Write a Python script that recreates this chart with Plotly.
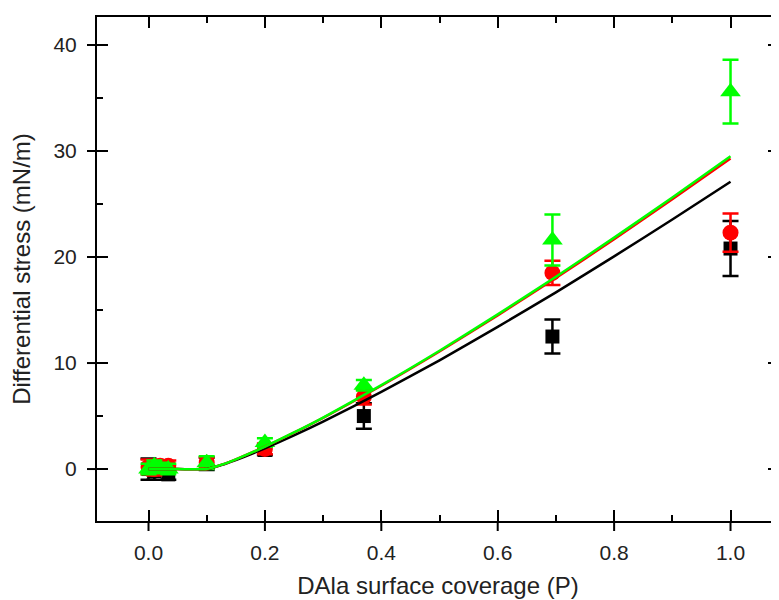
import plotly.graph_objects as go

# ---- data ----
coverage_pts = [0.0, 0.01, 0.02, 0.034, 0.1, 0.2, 0.37, 0.694, 1.0]

black_y = [0.0, -0.2, 0.1, -0.5, 0.5, 1.8, 5.0, 12.5, 20.8]
black_err = [1.0, 0.8, 0.6, 0.5, 0.6, 0.5, 1.2, 1.6, 2.6]

red_y = [0.2, 0.0, 0.3, 0.3, 0.6, 1.9, 6.8, 18.5, 22.3]
red_err = [0.7, 0.6, 0.5, 0.5, 0.5, 0.5, 0.7, 1.15, 1.8]

green_y = [0.0, 0.3, 0.1, 0.0, 0.6, 2.5, 7.9, 21.6, 35.6]
green_err = [0.5, 0.5, 0.5, 0.5, 0.6, 0.4, 0.5, 2.4, 3.0]

# fitted curves
fit_x = [0.0, 0.05, 0.1, 0.125, 0.15, 0.2, 0.25, 0.3, 0.4, 0.5, 0.6, 0.7, 0.8, 0.9, 1.0]
fit_black = [0.0, 0.0, 0.0, 0.37, 0.85, 1.95, 3.17, 4.47, 7.27, 10.26, 13.41, 16.67, 20.06, 23.54, 27.1]
fit_red = [0.0, 0.0, 0.0, 0.40, 0.92, 2.11, 3.43, 4.83, 7.86, 11.09, 14.50, 18.02, 21.68, 25.45, 29.3]
fit_green = [0.0, 0.0, 0.0, 0.40, 0.92, 2.12, 3.45, 4.86, 7.91, 11.16, 14.59, 18.14, 21.83, 25.61, 29.5]

x_ticks = [0.0, 0.2, 0.4, 0.6, 0.8, 1.0]
y_ticks = [0, 10, 20, 30, 40]

x_title = "DAla surface coverage (P)"
y_title = "Differential stress (mN/m)"

BLACK = "#000000"
RED = "#ff0000"
GREEN = "#00ff00"
TXT = "#222222"
FONT = "Liberation Sans, Arial, sans-serif"

fig = go.Figure()


def add_points(y, err, color, symbol, size):
    fig.add_trace(go.Scatter(
        x=coverage_pts, y=y, mode="markers",
        marker=dict(symbol=symbol, size=size, color=color, line=dict(width=0)),
        error_y=dict(type="data", array=err, visible=True, color=color,
                     thickness=2.5, width=8),
        showlegend=False, hoverinfo="skip"))


add_points(black_y, black_err, BLACK, "square", 14)
add_points(red_y, red_err, RED, "circle", 16)
add_points(green_y, green_err, GREEN, "triangle-up", 18)

for ys, col in [(fit_black, BLACK), (fit_red, RED), (fit_green, GREEN)]:
    fig.add_trace(go.Scatter(
        x=fit_x, y=ys, mode="lines",
        line=dict(color=col, width=2.5, shape="spline", smoothing=0.6),
        showlegend=False, hoverinfo="skip"))

# outer half of the crossing major ticks (inner half comes from the axes)
OUT = 10
for v in x_ticks:
    fig.add_shape(type="line", xref="x", x0=v, x1=v, yref="paper",
                  ysizemode="pixel", yanchor=0, y0=-OUT, y1=0,
                  line=dict(color=BLACK, width=2), layer="above")
for v in y_ticks:
    fig.add_shape(type="line", yref="y", y0=v, y1=v, xref="paper",
                  xsizemode="pixel", xanchor=0, x0=-OUT, x1=0,
                  line=dict(color=BLACK, width=2), layer="above")

XR = [-0.0885, 1.0833]
YR = [-4.9, 42.64]

# page body adds an 8px offset; margins compensate for it
fig.update_layout(
    width=771, height=592,
    margin=dict(l=89, r=0, t=9, b=79),
    paper_bgcolor="white", plot_bgcolor="white",
    font=dict(family=FONT, color=TXT),
    xaxis=dict(
        range=XR, tickvals=x_ticks, ticktext=[f"{v:.1f}" for v in x_ticks],
        ticks="inside", ticklen=11, tickwidth=2, tickcolor=BLACK,
        minor=dict(dtick=0.1, tick0=0, ticks="inside", ticklen=6, tickwidth=2, tickcolor=BLACK),
        showline=True, linewidth=2, linecolor=BLACK, mirror="allticks",
        showgrid=False, zeroline=False, automargin=False,
        ticklabelstandoff=12,
        tickfont=dict(size=21, color=TXT, family=FONT),
        title=dict(text=x_title, font=dict(size=24, color=TXT, family=FONT), standoff=14),
    ),
    yaxis=dict(
        range=YR, tickvals=y_ticks,
        ticks="inside", ticklen=11, tickwidth=2, tickcolor=BLACK,
        minor=dict(dtick=5, tick0=0, ticks="inside", ticklen=6, tickwidth=2, tickcolor=BLACK),
        showline=True, linewidth=2, linecolor=BLACK, mirror="allticks",
        showgrid=False, zeroline=False, automargin=False,
        ticklabelstandoff=14,
        tickfont=dict(size=21, color=TXT, family=FONT),
        title=dict(text=y_title, font=dict(size=24, color=TXT, family=FONT), standoff=16),
    ),
)

fig.write_html("out.html")
